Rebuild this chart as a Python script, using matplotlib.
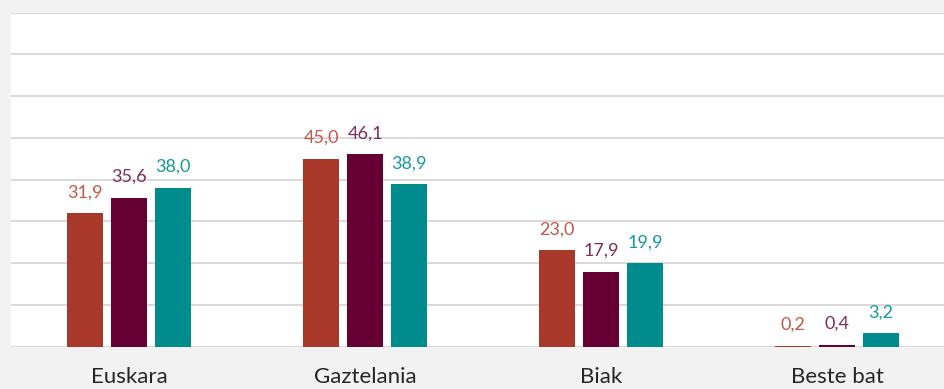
import matplotlib.pyplot as plt
import numpy as np

categories = ["Euskara", "Gaztelania", "Biak", "Beste bat"]
serie_1 = [31.9, 45.0, 23.0, 0.2]
serie_2 = [35.6, 46.1, 17.9, 0.4]
serie_3 = [38.0, 38.9, 19.9, 3.2]

bar_colors = ["#A8382A", "#660033", "#008C8C"]
label_colors = ["#C2574A", "#7E2C57", "#159A9A"]

plt.rcParams['font.family'] = ['Lato', 'DejaVu Sans']

fig = plt.figure(figsize=(9.44, 3.89), dpi=100)
fig.patch.set_facecolor("#F2F2F2")
# axes runs a bit past the right edge, like the cropped original
ax = fig.add_axes([11 / 944, (389 - 346.5) / 389, 944 / 944, 334 / 389])
ax.set_facecolor("white")

x = np.arange(len(categories))
width = 0.153
step = 0.186
for i, (vals, c, lc) in enumerate(zip([serie_1, serie_2, serie_3], bar_colors, label_colors)):
    pos = x + (i - 1) * step
    ax.bar(pos, vals, width=width, color=c, zorder=3)
    for p, v in zip(pos, vals):
        ax.annotate(f"{v:.1f}".replace(".", ","), (p, v), xytext=(0, 15),
                    textcoords="offset points", ha="center", va="center",
                    fontsize=13, color=lc, zorder=4)

ax.set_xlim(-0.5, 3.5)
ax.set_ylim(0, 80)
ax.set_yticks(np.arange(0, 81, 10))
ax.yaxis.grid(True, color="#D9D9D9", linewidth=1.4, zorder=0)
ax.set_axisbelow(True)
ax.tick_params(left=False, labelleft=False, bottom=False)
ax.set_xticks(x)
ax.set_xticklabels(categories, fontsize=16, color="#262626")
ax.tick_params(axis="x", pad=11)
for s in ax.spines.values():
    s.set_visible(False)

fig.savefig("out.png", dpi=100, facecolor=fig.get_facecolor())
